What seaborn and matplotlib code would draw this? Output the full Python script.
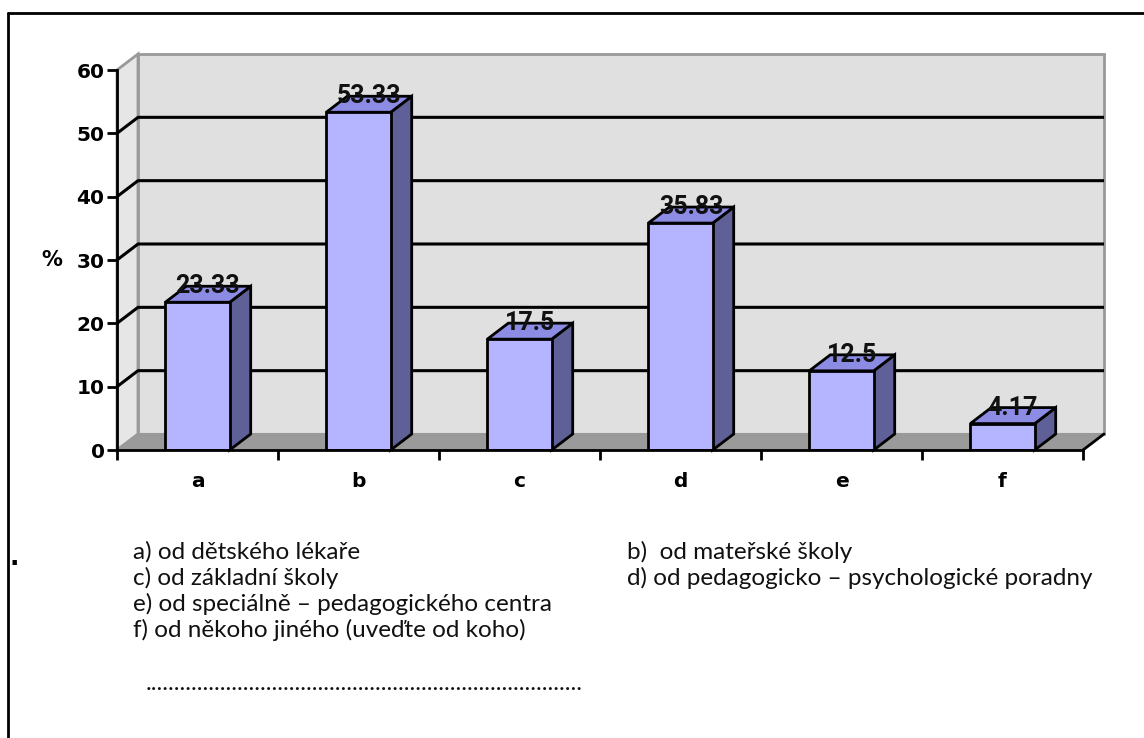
import matplotlib
matplotlib.use("Agg")
import matplotlib.pyplot as plt
from matplotlib.patches import Polygon
from matplotlib.lines import Line2D
import seaborn as sns

# Survey results: who recommended the consultation (percent of respondents)
categories = ["a", "b", "c", "d", "e", "f"]
values = [23.33, 53.33, 17.5, 35.83, 12.5, 4.17]
y_ticks = [0, 10, 20, 30, 40, 50, 60]
left_notes = [
    "a) od dětského lékaře",
    "c) od základní školy",
    "e) od speciálně – pedagogického centra",
    "f) od někoho jiného (uveďte od koho)",
]
right_notes = [
    "b)  od mateřské školy",
    "d) od pedagogicko – psychologické poradny",
]

sns.set_style("white")
plt.rcParams["font.family"] = ["DejaVu Sans"]
plt.rcParams["text.color"] = "black"
plt.rcParams["xtick.color"] = "black"
plt.rcParams["ytick.color"] = "black"
plt.rcParams["xtick.labelcolor"] = "black"
plt.rcParams["ytick.labelcolor"] = "black"

W, H = 1144, 738
fig = plt.figure(figsize=(W / 100, H / 100), dpi=100)
fig.patch.set_facecolor("white")

# front plane of the plot area (pixels: x 117..1083, y 450..70)
ax = fig.add_axes([117 / W, 288 / H, 966 / W, 380 / H])
ax.set_xlim(-0.5, 5.5)
ax.set_ylim(0, 60)

# perspective depth in data units
DX = 21 / 161
DY = 16 / (380 / 60)
X0, X1 = -0.5, 5.5
TOP = 60

wall_edge = "#999999"
# side wall
ax.add_patch(Polygon([(X0, 0), (X0 + DX, DY), (X0 + DX, TOP + DY), (X0, TOP)],
                     closed=True, fc="#e6e6e6", ec=wall_edge, lw=2, clip_on=False, zorder=0))
# back wall
ax.add_patch(Polygon([(X0 + DX, DY), (X1 + DX, DY), (X1 + DX, TOP + DY), (X0 + DX, TOP + DY)],
                     closed=True, fc="#e0e0e0", ec=wall_edge, lw=2, clip_on=False, zorder=0))
# floor
ax.add_patch(Polygon([(X0, 0), (X1, 0), (X1 + DX, DY), (X0 + DX, DY)],
                     closed=True, fc="#9a9a9a", ec=wall_edge, lw=1.5, clip_on=False, zorder=1))
ax.plot([X1, X1 + DX], [0, DY], color="black", lw=2, clip_on=False, zorder=2)

# gridlines across side wall and back wall
for v in y_ticks[1:-1]:
    ax.plot([X0, X0 + DX, X1 + DX], [v, v + DY, v + DY], color="black", lw=2.2,
            clip_on=False, zorder=2, solid_capstyle="butt")

# front faces of the bars
sns.barplot(x=categories, y=values, width=0.4, color="#b4b4ff", saturation=1,
            edgecolor="black", linewidth=2, ax=ax, zorder=5)

for p, v in zip(ax.patches[-len(values):], values):
    x0, w, h = p.get_x(), p.get_width(), p.get_height()
    side = [(x0 + w, 0), (x0 + w + DX, DY), (x0 + w + DX, h + DY), (x0 + w, h)]
    top = [(x0, h), (x0 + w, h), (x0 + w + DX, h + DY), (x0 + DX, h + DY)]
    ax.add_patch(Polygon(side, closed=True, fc="#606098", ec="black", lw=2,
                         zorder=4, clip_on=False, joinstyle="miter"))
    ax.add_patch(Polygon(top, closed=True, fc="#8c8ce4", ec="black", lw=2,
                         zorder=4, clip_on=False, joinstyle="miter"))
    ax.text(x0 + w / 2 + DX / 2, h + DY, f"{v:g}", ha="center", va="center",
            fontsize=18, fontweight="bold", family=["Roboto", "DejaVu Sans"],
            color="#111111", zorder=10, clip_on=False)

# axes styling
for s in ["top", "right"]:
    ax.spines[s].set_visible(False)
for s in ["left", "bottom"]:
    ax.spines[s].set_color("black")
    ax.spines[s].set_linewidth(2)
    ax.spines[s].set_zorder(6)
ax.set_facecolor("none")
ax.set_xlabel("")
ax.set_ylabel("")

ax.set_yticks(y_ticks)
ax.set_yticklabels([str(t) for t in y_ticks], fontsize=14.5, fontweight="bold")
ax.tick_params(axis="y", direction="out", length=7, width=2, color="black", pad=2, left=True)

ax.set_xticks([i - 0.5 for i in range(len(categories) + 1)])
ax.set_xticklabels([""] * (len(categories) + 1))
ax.set_xticks(range(len(categories)), minor=True)
ax.set_xticklabels(categories, minor=True, fontsize=14.5, fontweight="bold")
ax.tick_params(axis="x", which="major", direction="out", length=7, width=2,
               color="black", bottom=True)
ax.tick_params(axis="x", which="minor", length=0, pad=16)

fig.text(52 / W, 1 - 260 / H, "%", ha="center", va="center",
         fontsize=15, fontweight="bold")

# answer key below the chart
note_font = dict(fontsize=17.5, family=["Lato", "DejaVu Sans"], va="center", ha="left",
                 color="#111111")
for i, t in enumerate(left_notes):
    fig.text(133 / W, 1 - (552 + 26 * i) / H, t, **note_font)
for i, t in enumerate(right_notes):
    fig.text(627 / W, 1 - (552 + 26 * i) / H, t, **note_font)
fig.text(146 / W, 1 - 684 / H, "." * 76, **note_font)
fig.text(9 / W, 1 - 558 / H, ".", fontsize=18, fontweight="bold",
         family=["DejaVu Sans"], va="center", ha="left")

# frame around the whole graphic
fig.add_artist(Line2D([8 / W, 8 / W], [-0.01, 1 - 13 / H], transform=fig.transFigure,
                      color="black", lw=2))
fig.add_artist(Line2D([8 / W, 1.01], [1 - 13 / H, 1 - 13 / H], transform=fig.transFigure,
                      color="black", lw=2))

fig.savefig("out.png", dpi=100)
